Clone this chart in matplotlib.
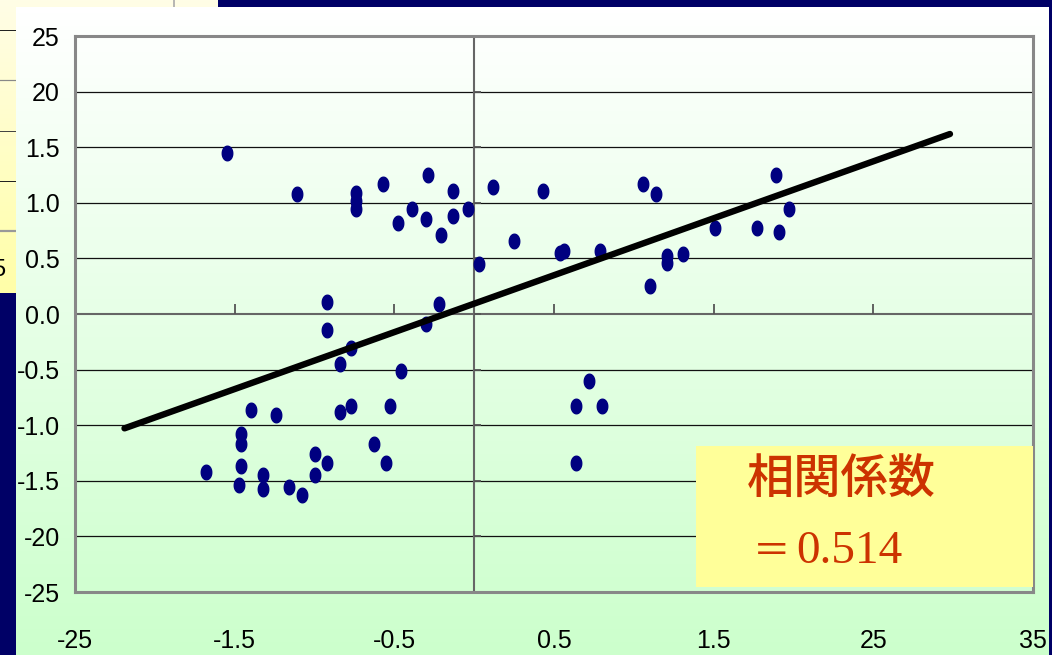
import numpy as np
import matplotlib
matplotlib.use("Agg")
import matplotlib.pyplot as plt
from matplotlib.path import Path
from matplotlib.patches import Rectangle
from matplotlib import markers as mmarkers

# ---------------- data ----------------
x_values = [-1.55, -1.11, -0.74, -0.74, -0.74, -0.57, -0.48, -0.39, -0.29, -0.30,
            -0.21, -0.13, -0.13, -0.04, 0.03, -0.92, -0.92, -0.22, -0.30,
            -0.84, -0.77, -0.46, -1.40, -1.24, -0.84, -0.77, -0.53, -1.46, -1.46,
            -0.63, -1.68, -1.46, -1.47, -1.32, -1.32, -1.16, -1.08, -1.00, -1.00,
            -0.92, -0.55,
            0.12, 0.43, 0.25, 0.54, 0.56, 0.79, 1.06, 1.14, 1.10, 1.21, 1.21,
            1.31, 1.51, 1.77, 1.91, 1.89, 1.97,
            0.72, 0.64, 0.80, 0.64]
y_values = [1.45, 1.08, 1.09, 1.02, 0.94, 1.17, 0.82, 0.94, 1.25, 0.85,
            0.71, 1.11, 0.88, 0.94, 0.45, 0.11, -0.14, 0.09, -0.09,
            -0.45, -0.31, -0.51, -0.86, -0.91, -0.88, -0.83, -0.83, -1.08, -1.17,
            -1.17, -1.42, -1.37, -1.54, -1.45, -1.57, -1.56, -1.63, -1.26, -1.45,
            -1.34, -1.34,
            1.14, 1.11, 0.66, 0.55, 0.57, 0.57, 1.17, 1.08, 0.25, 0.52, 0.46,
            0.54, 0.77, 0.77, 0.74, 1.25, 0.94,
            -0.60, -0.83, -0.83, -1.34]

fit_slope = 0.512
fit_intercept = 0.093
fit_x_range = [-2.19, 2.98]

x_ticks = [-2.5, -1.5, -0.5, 0.5, 1.5, 2.5, 3.5]
x_tick_labels = ["-25", "-1.5", "-0.5", "0.5", "1.5", "25", "35"]
y_ticks = [2.5, 2.0, 1.5, 1.0, 0.5, 0.0, -0.5, -1.0, -1.5, -2.0, -2.5]
y_tick_labels = ["25", "20", "1.5", "1.0", "0.5", "0.0", "-0.5", "-1.0", "-1.5", "-20", "-25"]
grid_levels = [2.0, 1.5, 1.0, 0.5, -0.5, -1.0, -1.5, -2.0]

box_title = "相関係数"
box_eq = "＝"
box_value = "0.514"

# ---------------- figure ----------------
W, H = 1052, 655
fig = plt.figure(figsize=(W / 100, H / 100), dpi=100)
fig.patch.set_facecolor("#000066")

# background layer in pixel coordinates
bg = fig.add_axes([0, 0, 1, 1], zorder=0)
bg.set_xlim(0, W)
bg.set_ylim(H, 0)
bg.axis("off")

# yellow table remnant (top-left)
ygrad = np.linspace(0, 1, 100).reshape(-1, 1)
ycmap = matplotlib.colors.LinearSegmentedColormap.from_list("yl", ["#fffde6", "#ffffa8"])
bg.imshow(ygrad, cmap=ycmap, extent=[0, 218, 293, 0], aspect="auto", zorder=1)
for yy, c, lw in [(30, "#222222", 1), (80, "#888888", 1.2), (131, "#444444", 1),
                  (181, "#222222", 1), (231, "#999999", 2.2)]:
    bg.plot([0, 218], [yy, yy], color=c, lw=lw * 0.72, zorder=2)
bg.plot([174, 174], [0, 293], color="#aaaaaa", lw=1.2, zorder=2)
bg.text(5, 270, "5", ha="right", va="center", fontsize=17,
        family="Liberation Sans", color="black", zorder=2)

# white -> green panel
gcmap = matplotlib.colors.LinearSegmentedColormap.from_list("gr", ["#ffffff", "#ccffcc"])
bg.imshow(ygrad, cmap=gcmap, extent=[16, 1049, 655, 7], aspect="auto", zorder=3)

# ---------------- plot axes ----------------
left, right, top, bottom = 75, 1033, 36, 592
ax = fig.add_axes([left / W, 1 - bottom / H, (right - left) / W, (bottom - top) / H], zorder=2)
ax.patch.set_alpha(0)
ax.set_xlim(-2.5, 3.5)
ax.set_ylim(-2.5, 2.5)

for s in ax.spines.values():
    s.set_color("#888888")
    s.set_linewidth(2.2)
    s.set_zorder(6)

for g in grid_levels:
    ax.axhline(g, color="#111111", lw=0.9, zorder=1)

ax.axhline(0, color="#666666", lw=1.5, zorder=2)
ax.axvline(0, color="#666666", lw=1.5, zorder=2)
# tick marks on zero-crossing axes
ax.plot(x_ticks[1:-1], [0] * (len(x_ticks) - 2), ls="none",
        marker=mmarkers.TICKUP, markersize=7, mew=1.3, color="#555555", zorder=2)
ax.plot([0] * len(y_ticks), y_ticks, ls="none",
        marker=mmarkers.TICKRIGHT, markersize=5, mew=1.3, color="#555555", zorder=2)

ax.set_xticks(x_ticks)
ax.set_xticklabels(x_tick_labels)
ax.set_yticks(y_ticks)
ax.set_yticklabels(y_tick_labels)
ax.tick_params(axis="both", length=0, labelsize=18, labelcolor="black")
ax.tick_params(axis="x", pad=27)
ax.tick_params(axis="y", pad=11)
for lab in ax.get_xticklabels() + ax.get_yticklabels():
    lab.set_family("Liberation Sans")

# ellipse marker
t = np.linspace(0, 2 * np.pi, 60)
ell = Path(np.column_stack([0.72 * np.cos(t), np.sin(t)]), closed=True)
ax.plot(x_values, y_values, ls="none", marker=ell, markersize=10.5,
        color="#000080", mec="#000080", zorder=4)

# regression line
fx = np.array(fit_x_range)
ax.plot(fx, fit_slope * fx + fit_intercept, color="black", lw=4.6,
        solid_capstyle="round", zorder=5)

# ---------------- annotation box ----------------
ov = fig.add_axes([0, 0, 1, 1], zorder=5)
ov.set_xlim(0, W)
ov.set_ylim(H, 0)
ov.axis("off")
ov.add_patch(Rectangle((696, 446), 337, 141, facecolor="#ffff99", edgecolor="none", zorder=1))
ov.text(747, 479, box_title, ha="left", va="center", fontsize=34, fontweight="medium",
        family=["Noto Sans CJK JP", "DejaVu Sans"], color="#cc3300", zorder=2)
ov.text(772, 553, box_eq, ha="center", va="center", fontsize=27,
        family=["Noto Sans CJK JP", "DejaVu Sans"], color="#cc3300", zorder=2)
ov.text(796, 552, box_value, ha="left", va="center", fontsize=34,
        family=["Liberation Serif", "DejaVu Serif"], color="#cc3300", zorder=2)

fig.savefig("out.png", dpi=100, facecolor=fig.get_facecolor())
